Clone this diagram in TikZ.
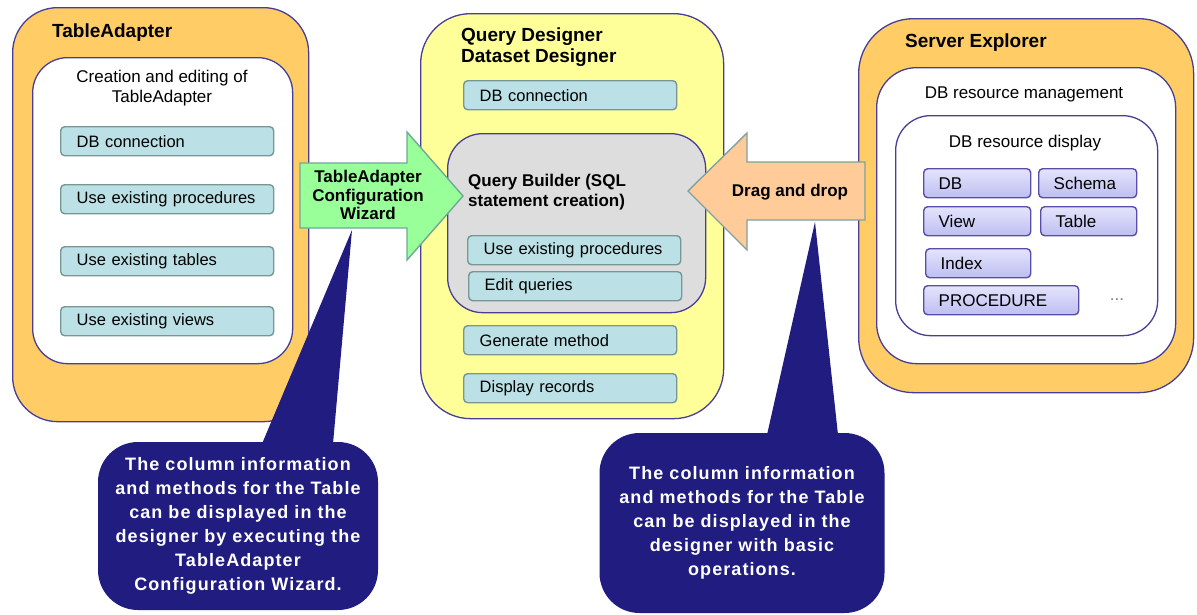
\documentclass[tikz,border=0pt]{standalone}
\usepackage{fontspec}
\setmainfont{Liberation Sans}
\newfontfamily\callfont[LetterSpace=6]{Liberation Sans}
\usepackage{tikz}
\usetikzlibrary{positioning}
\hyphenpenalty=10000

\definecolor{edgeblue}{RGB}{72,62,150}
\definecolor{boxorange}{RGB}{255,204,102}
\definecolor{boxyellow}{RGB}{255,255,153}
\definecolor{boxgray}{RGB}{221,221,221}
\definecolor{itemfill}{RGB}{187,225,230}
\definecolor{itemedge}{RGB}{120,150,150}
\definecolor{restop}{RGB}{228,228,252}
\definecolor{resbottom}{RGB}{190,190,242}
\definecolor{resedge}{RGB}{88,78,170}
\definecolor{wizgreen}{RGB}{153,255,153}
\definecolor{wizedge}{RGB}{110,170,150}
\definecolor{dragorange}{RGB}{255,204,153}
\definecolor{dragedge}{RGB}{130,160,160}
\definecolor{navy}{RGB}{32,28,128}

\begin{document}
\begin{tikzpicture}[x=1pt, y=-1pt,
        frame/.style={draw=edgeblue, line width=1.3pt, anchor=north west, inner sep=0pt},
        title/.style={font=\bfseries\fontsize{19}{21}\selectfont, inner sep=0pt, align=left},
        caption/.style={font=\fontsize{17}{20}\selectfont, inner sep=0pt, align=center},
        item/.style={draw=itemedge, line width=1.4pt, fill=itemfill, rounded corners=4pt,
            anchor=north west, text width=#1, inner xsep=16pt, inner ysep=0pt,
            minimum height=29pt, align=left, font=\fontsize{16.5}{20}\selectfont},
        item/.default=181pt,
        res/.style={draw=resedge, line width=1.4pt, top color=restop, bottom color=resbottom,
            rounded corners=4pt, anchor=north west, text width=#1, inner xsep=15pt,
            inner ysep=0pt, minimum height=29pt, align=left, font=\fontsize{17}{20}\selectfont},
        res/.default=77pt,
        bigarrow/.style={line width=1.4pt, line join=miter},
        arrowtext/.style={font=\bfseries\fontsize{17}{18.5}\selectfont, inner sep=0pt, align=center},
        callout/.style={fill=navy, rounded corners=40pt, text=white, align=center, inner sep=0pt,
            font=\callfont\bfseries\fontsize{18}{24}\selectfont},
    ]
    \useasboundingbox (0,0) rectangle (1197,614);

    % TableAdapter
    \node[frame, fill=boxorange, rounded corners=45pt, minimum width=296pt, minimum height=414pt] (tadapter) at (12,7) {};
    \node[title, anchor=base west] (tadaptertitle) at (52,37) {TableAdapter};
    \node[frame, fill=white, rounded corners=35pt, minimum width=260pt, minimum height=306pt] (tedit) at (32,57) {};
    \node[caption] (teditcap) at (162,88) {Creation and editing of\\TableAdapter};
    \node[item] (tdb) at (60,126) {DB connection};
    \node[item] (tproc) at (60,184) {Use existing procedures};
    \node[item] (ttab) at (60,246) {Use existing tables};
    \node[item] (tview) at (60,306) {Use existing views};

    % Query Designer / Dataset Designer
    \node[frame, fill=boxyellow, rounded corners=50pt, minimum width=303pt, minimum height=405pt] (qdesigner) at (420,13) {};
    \node[title, anchor=west] (qdesignertitle) at (461,47) {Query Designer\\Dataset Designer};
    \node[item] (qdb) at (463,80) {DB connection};
    \node[frame, fill=boxgray, rounded corners=35pt, minimum width=258pt, minimum height=179pt] (qbuilder) at (447,133) {};
    \node[title, anchor=west, font=\bfseries\fontsize{17}{19.5}\selectfont] (qbuildertitle) at (468,192) {Query Builder (SQL\\statement creation)};
    \node[item] (qproc) at (467,235) {Use existing procedures};
    \node[item] (qedit) at (468,271) {Edit queries};
    \node[item] (qgen) at (463,325) {Generate method};
    \node[item] (qrec) at (463,373) {Display records};

    % Server Explorer
    \node[frame, fill=boxorange, rounded corners=55pt, minimum width=335pt, minimum height=374pt] (sexplorer) at (858,18) {};
    \node[title, anchor=base west] (sexplorertitle) at (905,47) {Server Explorer};
    \node[frame, fill=white, rounded corners=40pt, minimum width=299pt, minimum height=296pt] (smanage) at (876,67) {};
    \node[caption] (smanagecap) at (1024,94) {DB resource management};
    \node[frame, fill=white, rounded corners=35pt, minimum width=262pt, minimum height=220pt] (sdisplay) at (895,115) {};
    \node[caption] (sdisplaycap) at (1025,143) {DB resource display};
    \node[res] (rdb) at (923,168) {DB};
    \node[res=68pt] (rschema) at (1038,168) {Schema};
    \node[res] (rview) at (923,206) {View};
    \node[res=66pt] (rtable) at (1040,206) {Table};
    \node[res=75pt] (rindex) at (925,248) {Index};
    \node[res=125pt] (rproc) at (923,285) {PROCEDURE};
    \node[caption, text=gray] (rmore) at (1117,300) {...};

    % callouts
    \coordinate (tipL) at (352,230);
    \coordinate (tipR) at (815,222);
    \node[callout, minimum width=280pt, minimum height=168pt] (calloutL) at (238,526)
        {The column information\\and methods for the Table\\can be displayed in the\\designer by executing the\\TableAdapter\\Configuration Wizard.};
    \fill[navy] ([xshift=24pt,yshift=-2pt]calloutL.north) -- (tipL) -- ([xshift=95pt,yshift=-2pt]calloutL.north) -- cycle;
    \node[callout, minimum width=285pt, minimum height=180pt] (calloutR) at (742,523)
        {The column information\\and methods for the Table\\can be displayed in the\\designer with basic\\operations.};
    \fill[navy] ([xshift=25pt,yshift=-2pt]calloutR.north) -- (tipR) -- ([xshift=96pt,yshift=-2pt]calloutR.north) -- cycle;

    % big arrows
    \draw[bigarrow, draw=wizedge, fill=wizgreen] (300,163) -- (407,163) -- (407,132) -- (463,196)
        -- (407,260) -- (407,228) -- (300,228) -- cycle;
    \node[arrowtext] (wizard) at (368,195) {TableAdapter\\Configuration\\Wizard};
    \draw[bigarrow, draw=dragedge, fill=dragorange] (865,162) -- (747,162) -- (747,133) -- (688,191)
        -- (747,250) -- (747,220) -- (865,220) -- cycle;
    \node[arrowtext] (dragdrop) at (790,192) {Drag and drop};
\end{tikzpicture}
\end{document}
